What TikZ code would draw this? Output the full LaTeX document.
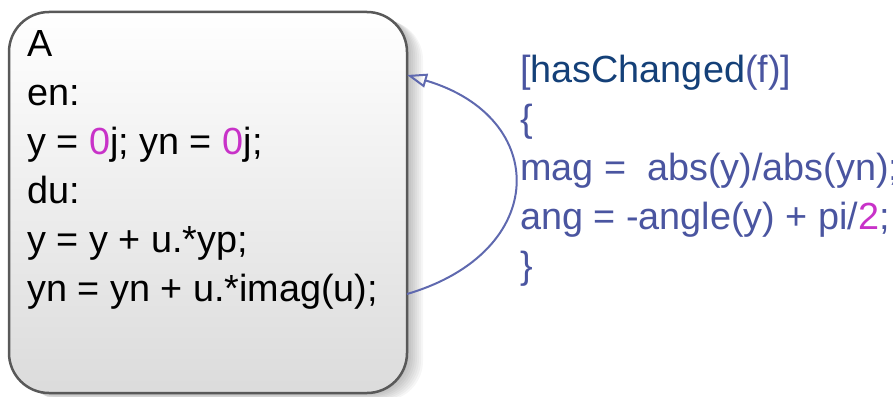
\documentclass[tikz,border=0pt]{standalone}
\usepackage{fontspec}
\setmainfont{Liberation Sans}
\usetikzlibrary{positioning}
\usetikzlibrary{arrows.meta}
\definecolor{codeblue}{RGB}{74,85,160}
\definecolor{codenavy}{RGB}{20,64,120}
\definecolor{codemag}{RGB}{200,50,200}
\definecolor{loopblue}{RGB}{95,105,175}
\newcommand{\numlit}[1]{\textcolor{codemag}{#1}}

\begin{document}
\begin{tikzpicture}[x=1pt, y=-1pt, >={Triangle[open, length=20pt, width=14pt]}]
    \useasboundingbox (0,0) rectangle (893,396);
    % soft shadow of the state
    \foreach \s in {2,4,...,16}
        \fill[black, opacity=0.035, rounded corners=40pt] (9+\s,12+\s/2) rectangle (407+\s,393+\s/2);
    \node[draw=black!65, line width=2.5pt, rounded corners=40pt, top color=white, bottom color=black!14,
          minimum width=398pt, minimum height=381pt, inner sep=0pt, outer sep=0pt, anchor=north west] (stateA) at (9,12) {};
    % base of a multi-line node is its last line
    \node[anchor=base west, align=left, inner sep=0pt, font=\fontsize{37.8}{49}\selectfont] (actions) at (27,301)
        {A\\en:\\y = \numlit{0}j; yn = \numlit{0}j;\\du:\\y = y + u.*yp;\\yn = yn + u.*imag(u);};
    \node[anchor=base west, align=left, inner sep=0pt, text=codeblue, font=\fontsize{37.8}{49}\selectfont] (guard) at (520,278)
        {[\textcolor{codenavy}{hasChanged}(f)]\\\{\\mag = \ abs(y)/abs(yn);\\ang = -angle(y) + pi/\numlit{2};\\\}};
    % self loop
    \draw[->, loopblue, line width=2pt] ([yshift=-91.5pt]stateA.east) .. controls +(143,-42) and +(143,42) .. ([yshift=127.5pt]stateA.east);
\end{tikzpicture}
\end{document}
